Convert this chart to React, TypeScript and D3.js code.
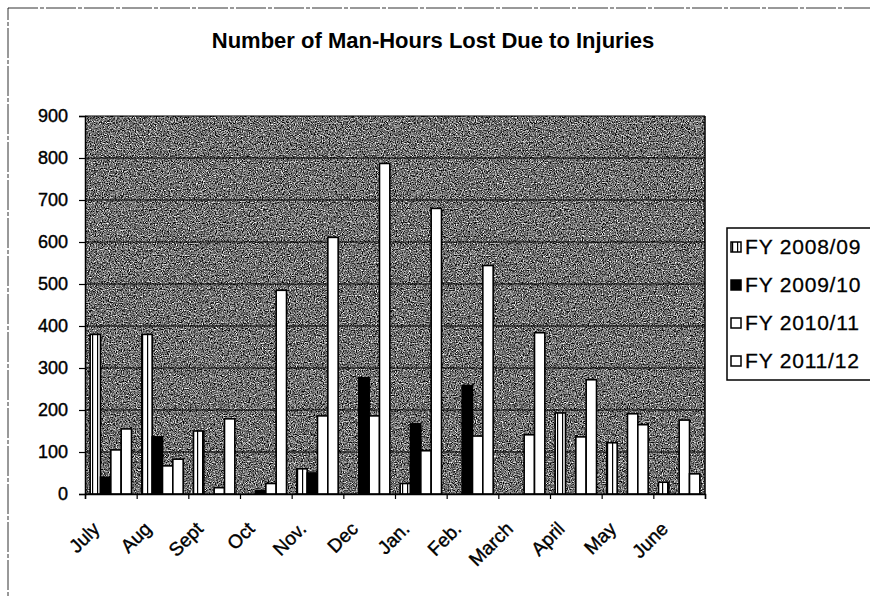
import { select, scaleBand, scaleLinear, axisLeft, axisBottom, range } from "d3";
import { useEffect, useRef } from "react";

const months = ["July", "Aug", "Sept", "Oct", "Nov.", "Dec", "Jan.", "Feb.", "March", "April", "May", "June"];
const seriesNames = ["FY 2008/09", "FY 2009/10", "FY 2010/11", "FY 2011/12"];
const fy0809 = [380, 380, 150, 0, 60, 0, 25, 0, 0, 193, 122, 28];
const fy0910 = [40, 136, 0, 8, 50, 277, 167, 258, 0, 0, 0, 0];
const fy1011 = [105, 67, 15, 25, 186, 186, 103, 138, 141, 136, 191, 176];
const fy1112 = [155, 83, 179, 485, 611, 787, 680, 544, 384, 272, 165, 48];
const yTicks = range(0, 901, 100);

const W = 870;
const H = 598;
const left = 85, right = 705, top = 116, bottom = 494;

const fills = ["url(#vstripe)", "#000", "#fff", "#fff"];

export default function App() {
  const yAxisRef = useRef<SVGGElement>(null);
  const xAxisRef = useRef<SVGGElement>(null);

  const x0 = scaleBand().domain(months).range([left, right]).paddingInner(0.2).paddingOuter(0.1);
  const x1 = scaleBand().domain(seriesNames).range([0, x0.bandwidth()]);
  const edges = scaleLinear().domain([0, months.length]).range([left, right]);
  const y = scaleLinear().domain([0, 900]).range([bottom, top]);

  const allSeries = [fy0809, fy0910, fy1011, fy1112];

  useEffect(() => {
    const yAxis = axisLeft(y).tickValues(yTicks).tickSize(6).tickPadding(11);
    const g = select(yAxisRef.current);
    g.call(yAxis);
    g.select(".domain").attr("stroke", "#000").attr("stroke-width", 1.5);
    g.selectAll("line").attr("stroke", "#000").attr("stroke-width", 1.2);
    g.selectAll("text")
      .attr("font-size", 18)
      .attr("font-family", "Liberation Sans, Arial, sans-serif")
      .attr("fill", "#000")
      .attr("stroke", "#000")
      .attr("stroke-width", 0.4);

    const xAxis = axisBottom(edges).tickValues(range(0, months.length + 1)).tickSize(5).tickFormat(() => "");
    const gx = select(xAxisRef.current);
    gx.call(xAxis);
    gx.select(".domain").attr("stroke", "#000").attr("stroke-width", 1.5);
    gx.selectAll("line").attr("stroke", "#000").attr("stroke-width", 1.2);
  }, []);

  return (
    <svg width={W} height={H} style={{ position: "absolute", left: 0, top: 0, background: "#fff" }}>
      <defs>
        <filter id="speckle" x="0" y="0" width="100%" height="100%" colorInterpolationFilters="sRGB">
          <feTurbulence type="fractalNoise" baseFrequency="0.85" numOctaves="2" seed="4" result="noise" />
          <feColorMatrix
            in="noise"
            type="matrix"
            values="0.33 0.33 0.33 0 0  0.33 0.33 0.33 0 0  0.33 0.33 0.33 0 0  0 0 0 0 1"
            result="gray"
          />
          <feComponentTransfer in="gray" result="contrast">
            <feFuncR type="linear" slope="3.2" intercept="-1.15" />
            <feFuncG type="linear" slope="3.2" intercept="-1.15" />
            <feFuncB type="linear" slope="3.2" intercept="-1.15" />
          </feComponentTransfer>
          <feComposite in="contrast" in2="SourceGraphic" operator="in" />
        </filter>
        <pattern id="vstripe" width="5" height="5" patternUnits="userSpaceOnUse">
          <rect width="5" height="5" fill="#fff" />
          <rect x="2" width="1.2" height="5" fill="#000" />
        </pattern>
      </defs>

      {/* outer chart border */}
      <rect x={8} y={8} width={W + 10} height={H + 10} fill="none" stroke="#333" strokeWidth={1} strokeDasharray="30 2 4 2" />

      <text
        x={433}
        y={48}
        textAnchor="middle"
        fontSize={22}
        fontWeight="bold"
        fontFamily="Liberation Sans, Arial, sans-serif"
      >
        Number of Man-Hours Lost Due to Injuries
      </text>

      {/* plot area */}
      <rect x={left} y={top} width={right - left} height={bottom - top} fill="#808080" filter="url(#speckle)" />
      {yTicks.map((t) => (
        <line key={t} x1={left} x2={right} y1={y(t)} y2={y(t)} stroke="#000" strokeWidth={1.2} />
      ))}
      <line x1={right} x2={right} y1={top} y2={bottom} stroke="#000" strokeWidth={1.5} />

      {allSeries.map((vals, si) => (
        <g key={seriesNames[si]}>
          {vals.map((v, i) =>
            v > 0 ? (
              <rect
                key={months[i]}
                x={(x0(months[i]) ?? 0) + (x1(seriesNames[si]) ?? 0)}
                y={y(v)}
                width={x1.bandwidth()}
                height={bottom - y(v)}
                fill={fills[si]}
                stroke="#000"
                strokeWidth={1.6}
              />
            ) : null
          )}
        </g>
      ))}

      <g ref={yAxisRef} transform={`translate(${left},0)`} />
      <g ref={xAxisRef} transform={`translate(0,${bottom})`} />

      {months.map((m) => {
        const cx = (x0(m) ?? 0) + x0.bandwidth() / 2;
        return (
          <text
            key={m}
            transform={`translate(${cx - 10},${530}) rotate(-45)`}
            textAnchor="end"
            fontSize={19}
            fontFamily="Liberation Sans, Arial, sans-serif"
            stroke="#000"
            strokeWidth={0.4}
          >
            {m}
          </text>
        );
      })}

      {/* legend */}
      <rect x={727} y={228} width={160} height={152} fill="#fff" stroke="#000" strokeWidth={1.5} />
      {seriesNames.map((name, i) => {
        const cy = 247 + i * 38;
        return (
          <g key={name}>
            <rect x={731} y={cy - 5} width={10} height={10} fill={fills[i]} stroke="#000" strokeWidth={1.5} />
            <text
              x={745}
              y={cy}
              dy="0.35em"
              fontSize={21}
              letterSpacing={0.8}
              fontFamily="Liberation Sans, Arial, sans-serif"
              stroke="#000"
              strokeWidth={0.3}
            >
              {name}
            </text>
          </g>
        );
      })}
    </svg>
  );
}
